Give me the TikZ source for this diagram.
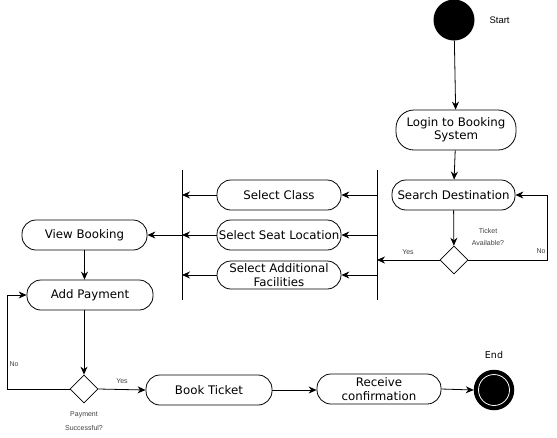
\documentclass[tikz,border=0pt]{standalone}
\usepackage{fontspec}
\setmainfont{DejaVu Sans}
\newfontfamily\lab{Liberation Sans}
\usetikzlibrary{arrows.meta,shapes.geometric}
\begin{document}
\begin{tikzpicture}[x=1pt,y=-1pt,
  act/.style={draw,rectangle,rounded corners=14pt,minimum height=30pt,inner sep=0pt,font=\fontsize{11.8}{13}\selectfont,align=center,line width=0.8pt},
  dec/.style={draw,diamond,minimum width=28pt,minimum height=28pt,inner sep=0pt,line width=0.8pt},
  arr/.style={-{Stealth[length=8pt,width=7pt]},line width=0.8pt},
  bar/.style={line width=1pt},
  small/.style={font=\lab\fontsize{7}{8}\selectfont,text=black!75,inner sep=0pt},
]
\useasboundingbox (0,0) rectangle (557,437);
% start
\node[circle,fill=black,minimum size=41pt,inner sep=0pt] (start) at (454,20) {};
\node[font=\lab\fontsize{9.5}{11}\selectfont,anchor=west] (startl) at (486,20) {Start};
\node[act,minimum width=120pt,minimum height=40pt,rounded corners=18pt] (login) at (456,130) {Login to Booking\\System};
\node[act,minimum width=123pt] (search) at (453.5,195) {Search Destination};
\node[dec] (d1) at (454,260) {};
\node[small,align=center] (tl) at (488,237) {Ticket\\[4pt]Available?};
% bars
\coordinate (rbT) at (377,170); \coordinate (rbB) at (377,300);
\coordinate (lbT) at (182,170); \coordinate (lbB) at (182,300);
\draw[bar] (rbT) -- (rbB);
\draw[bar] (lbT) -- (lbB);
\node[act,minimum width=124pt] (cls) at (279,195) {Select Class};
\node[act,minimum width=124pt] (seat) at (279,235) {Select Seat Location};
\node[act,minimum width=124pt,minimum height=28pt,font=\fontsize{11.8}{14}\selectfont] (fac) at (279,275) {Select Additional\\Facilities};
\node[act,minimum width=125pt] (view) at (84.5,235) {View Booking};
\node[act,minimum width=126pt] (pay) at (90,295) {Add Payment};
\node[dec] (d2) at (84,389) {};
\node[small,align=center] (pl) at (84,421) {Payment\\[6pt]Successful?};
\node[act,minimum width=126pt] (book) at (209,390) {Book Ticket};
\node[act,minimum width=124pt,font=\fontsize{11.8}{13.5}\selectfont] (recv) at (379,389) {Receive\\confirmation};
% end
\node[circle,draw,line width=2.5pt,fill=black,minimum size=38pt,inner sep=0pt] (endo) at (494,390) {};
\node[circle,draw=white,line width=0.8pt,minimum size=31pt,inner sep=0pt] (endi) at (494,390) {};
\node[font=\fontsize{9.5}{11}\selectfont] (endl) at (494,355) {End};
% connectors
\draw[arr] (start) -- (login);
\draw[arr] (login) -- (search);
\draw[arr] (search) -- (d1);
\draw[arr] (d1.east) -- (547,260) |- (search.east);
\node[small] (no1) at (541,251) {No};
\draw[arr] (d1.west) -- (d1.west -| rbT);
\node[small] (yes1) at (408,252) {Yes};
\draw[arr] (cls.east -| rbT) -- (cls.east);
\draw[arr] (seat.east -| rbT) -- (seat.east);
\draw[arr] (fac.east -| rbT) -- (fac.east);
\draw[arr] (cls.west) -- (cls.west -| lbT);
\draw[arr] (seat.west) -- (seat.west -| lbT);
\draw[arr] (fac.west) -- (fac.west -| lbT);
\draw[arr] (seat.west -| lbT) -- (view.east);
\draw[arr] (view.south) -- (view.south |- pay.north);
\draw[arr] (d2.north |- pay.south) -- (d2.north);
\draw[arr] (d2.west) -- (7,389) |- (pay.west);
\node[small] (no2) at (14,364) {No};
\draw[arr] (d2.east) -- (book.west);
\node[small] (yes2) at (122,381) {Yes};
\draw[arr] (book.east) -- (book.east -| recv.west);
\draw[arr] (recv.east) -- (endo.west);
\end{tikzpicture}
\end{document}
